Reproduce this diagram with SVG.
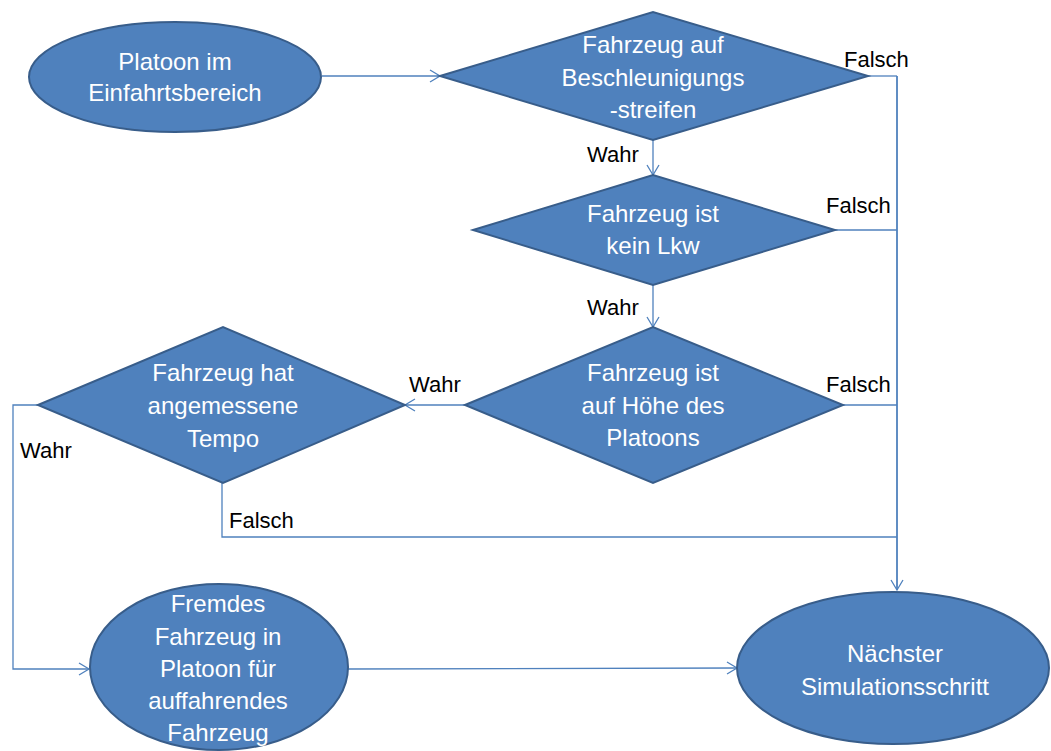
<svg xmlns="http://www.w3.org/2000/svg" width="1051" height="751" viewBox="0 0 1051 751">
<defs>
<style>
.node{fill:#4F81BD;stroke:#385D8A;stroke-width:2}
.nt{font-family:"Liberation Sans",Arial,sans-serif;font-size:24px;fill:#FFFFFF;text-anchor:middle}
.lbl{font-family:"Liberation Sans",Arial,sans-serif;font-size:22px;fill:#000000}
.edge{fill:none;stroke:#4F81BD;stroke-width:1.3}
.edge2{fill:none;stroke:#4F81BD;stroke-width:1.8}
</style>
<marker id="arr" markerUnits="userSpaceOnUse" markerWidth="14" markerHeight="14" refX="11" refY="7" orient="auto">
<path d="M1,1 L11,7 L1,13" fill="none" stroke="#4F81BD" stroke-width="1.3"/>
</marker>
</defs>
<rect width="1051" height="751" fill="#FFFFFF"/>
<g id="connectors">
<path class="edge" d="M322,76 L440,76" marker-end="url(#arr)"/>
<path class="edge" d="M653,140 L653,175" marker-end="url(#arr)"/>
<path class="edge" d="M653,285 L653,327" marker-end="url(#arr)"/>
<path class="edge" d="M465,405 L405,405" marker-end="url(#arr)"/>
<path class="edge" d="M868,76 L897,76"/>
<path class="edge" d="M835,230 L897,230"/>
<path class="edge" d="M843,405 L897,405"/>
<path class="edge" d="M222,483 L222,537 L897,537"/>
<path class="edge2" d="M897,76 L897,590" marker-end="url(#arr)"/>
<path class="edge" d="M38,405 L13,405 L13,669 L89,669" marker-end="url(#arr)"/>
<path class="edge" d="M348,669 L737,668" marker-end="url(#arr)"/>
<text class="lbl" x="844" y="67">Falsch</text>
<text class="lbl" x="587" y="162">Wahr</text>
<text class="lbl" x="826" y="213">Falsch</text>
<text class="lbl" x="587" y="315">Wahr</text>
<text class="lbl" x="826" y="392">Falsch</text>
<text class="lbl" x="409" y="392">Wahr</text>
<text class="lbl" x="20" y="458">Wahr</text>
<text class="lbl" x="229" y="528">Falsch</text>
</g>
<g id="start">
<ellipse class="node" cx="175" cy="77" rx="146" ry="55"/>
<text class="nt" x="175" y="70">Platoon im</text>
<text class="nt" x="175" y="101">Einfahrtsbereich</text>
</g>
<g id="d1">
<polygon class="node" points="440,76 653,12 868,76 653,140"/>
<text class="nt" x="653" y="53">Fahrzeug auf</text>
<text class="nt" x="653" y="86">Beschleunigungs</text>
<text class="nt" x="653" y="118">-streifen</text>
</g>
<g id="d2">
<polygon class="node" points="473,230 653,175 835,230 653,285"/>
<text class="nt" x="653" y="222">Fahrzeug ist</text>
<text class="nt" x="653" y="254">kein Lkw</text>
</g>
<g id="d3">
<polygon class="node" points="465,405 653,327 843,405 653,483"/>
<text class="nt" x="653" y="381">Fahrzeug ist</text>
<text class="nt" x="653" y="414">auf Höhe des</text>
<text class="nt" x="653" y="446">Platoons</text>
</g>
<g id="d4">
<polygon class="node" points="38,405 223,327 405,405 223,483"/>
<text class="nt" x="223" y="381">Fahrzeug hat</text>
<text class="nt" x="223" y="414">angemessene</text>
<text class="nt" x="223" y="447">Tempo</text>
</g>
<g id="fremd">
<ellipse class="node" cx="219" cy="667" rx="129" ry="83"/>
<text class="nt" x="218" y="612">Fremdes</text>
<text class="nt" x="218" y="645">Fahrzeug in</text>
<text class="nt" x="218" y="677">Platoon für</text>
<text class="nt" x="218" y="709">auffahrendes</text>
<text class="nt" x="218" y="741">Fahrzeug</text>
</g>
<g id="next">
<ellipse class="node" cx="893" cy="668" rx="156" ry="76"/>
<text class="nt" x="895" y="662">Nächster</text>
<text class="nt" x="895" y="695">Simulationsschritt</text>
</g>
</svg>
